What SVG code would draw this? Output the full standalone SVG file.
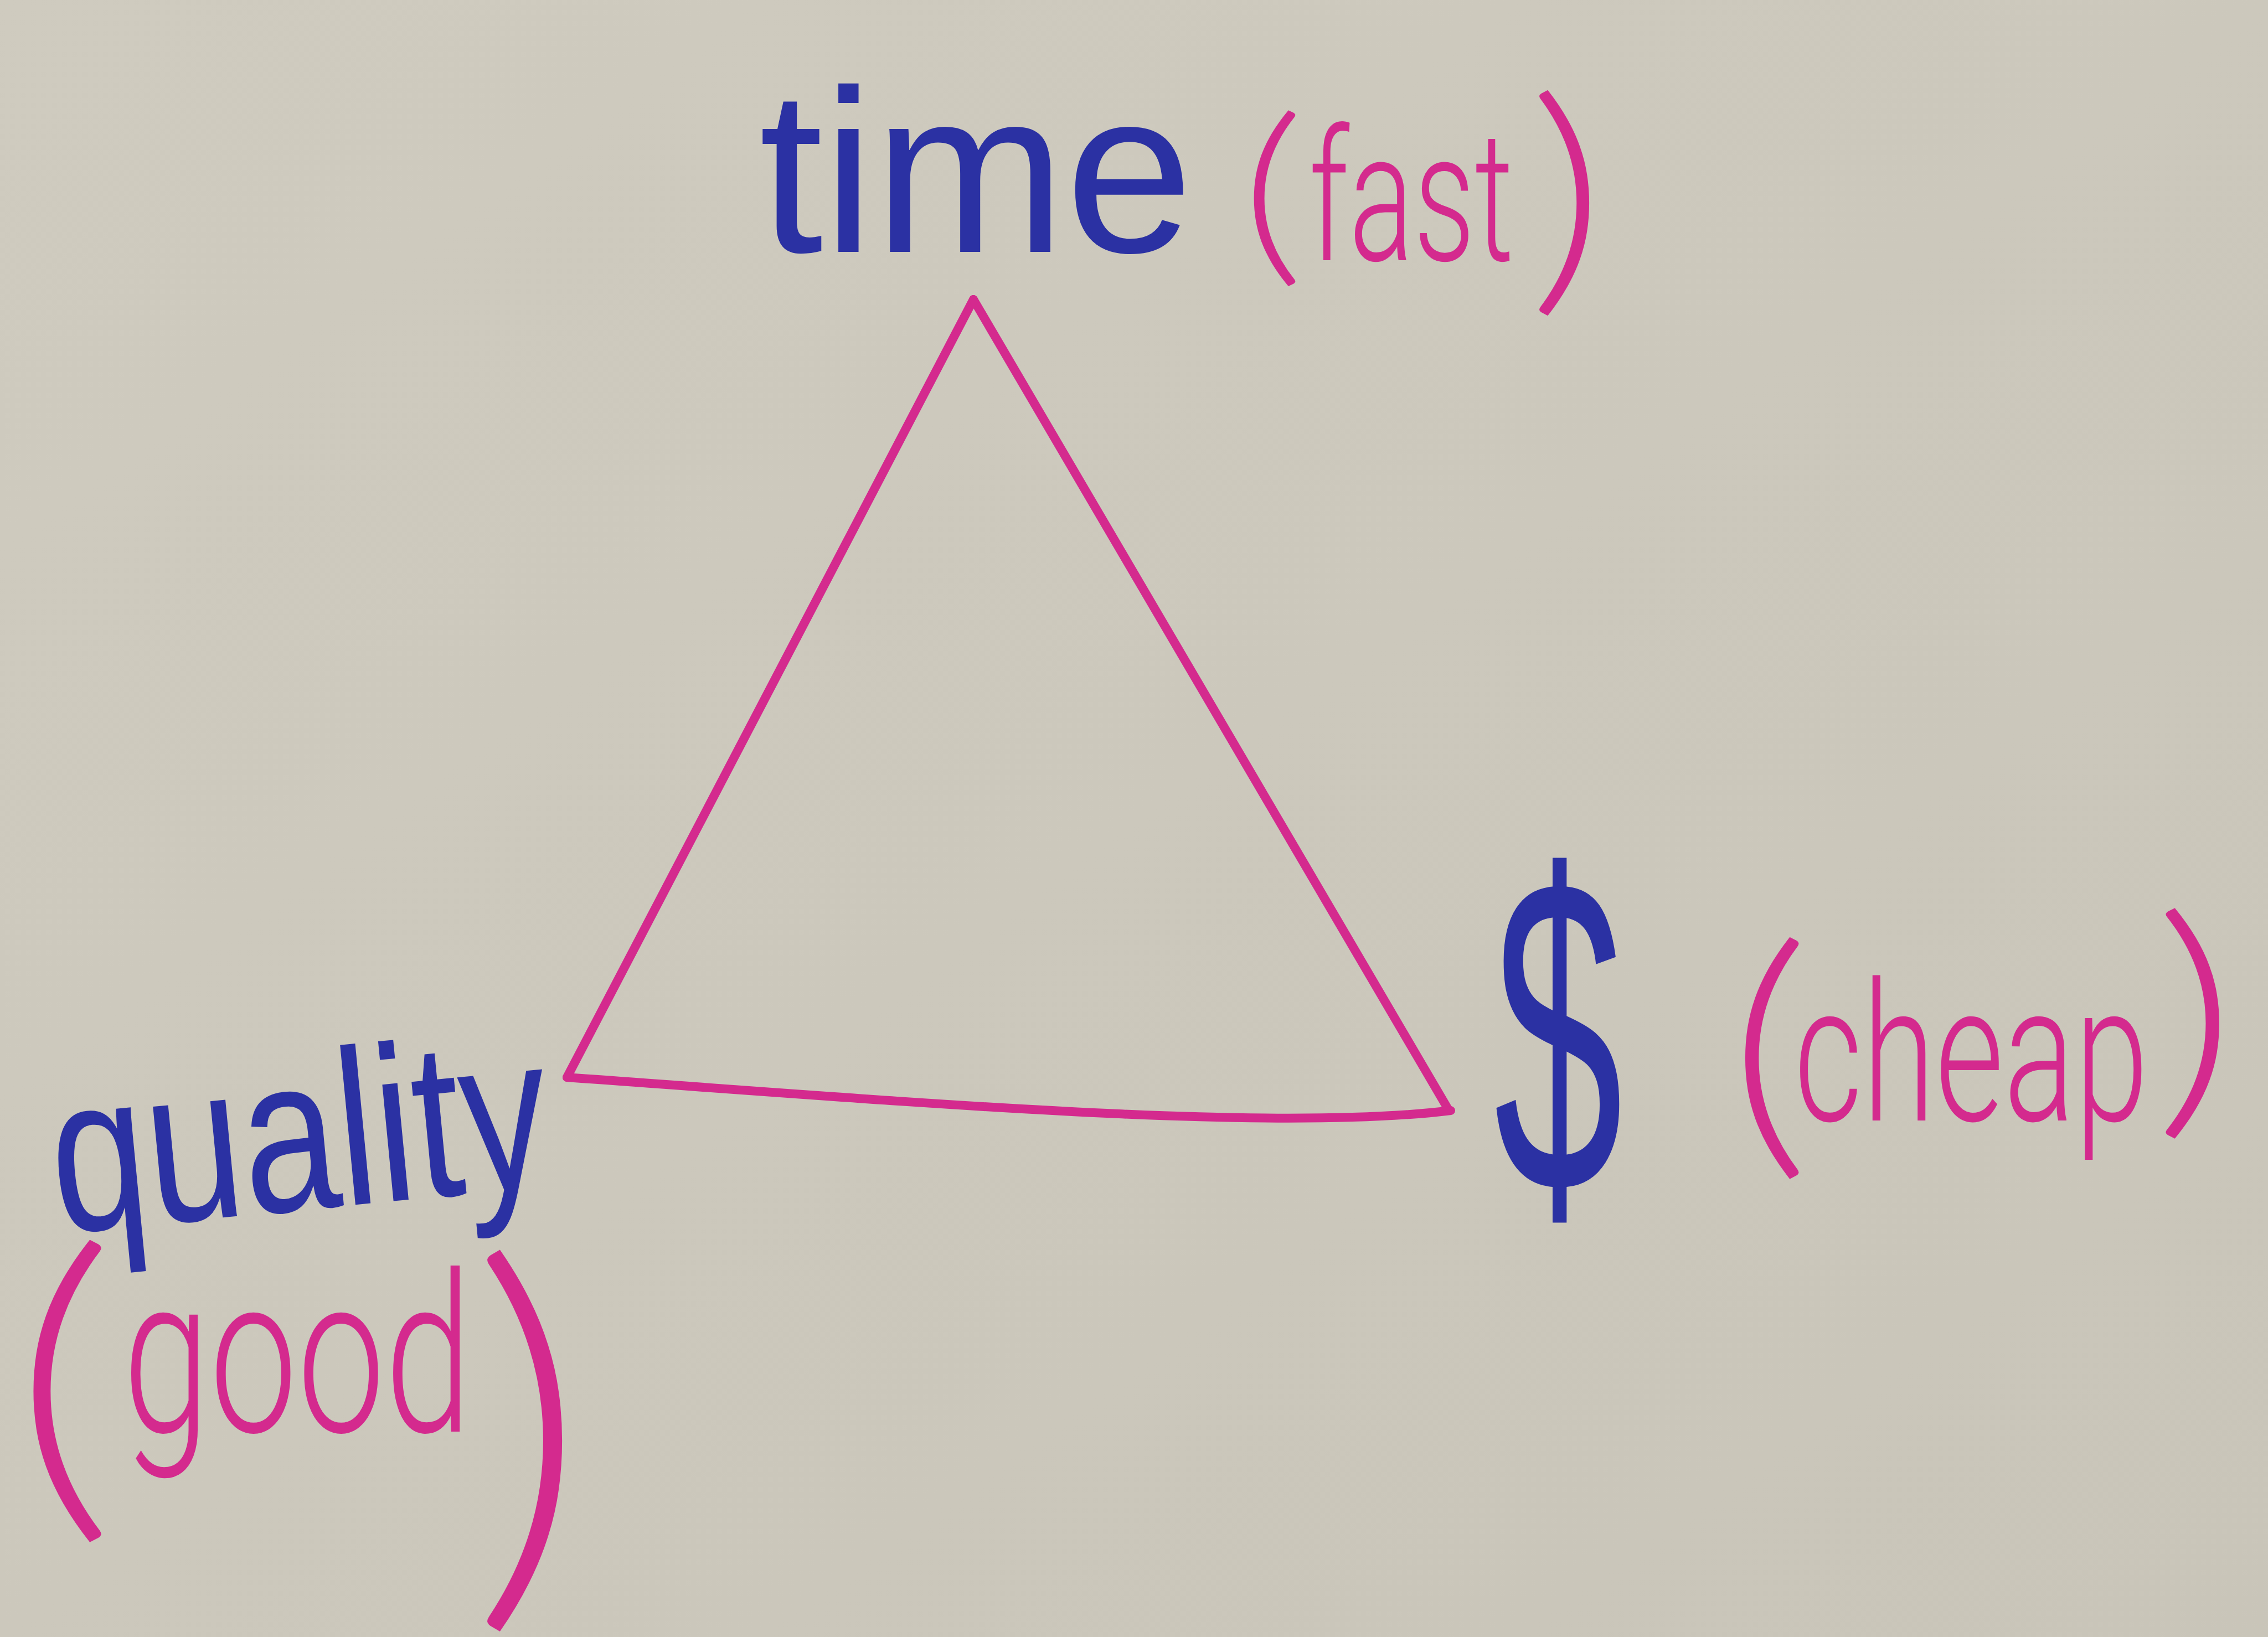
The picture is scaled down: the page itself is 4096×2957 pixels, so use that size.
<svg xmlns="http://www.w3.org/2000/svg" width="4096" height="2957" viewBox="0 0 4096 2957">
  <defs>
    <linearGradient id="board" x1="0" y1="0" x2="1" y2="1">
      <stop offset="0" stop-color="#cfcbbf"/>
      <stop offset="0.5" stop-color="#ccc8bc"/>
      <stop offset="1" stop-color="#c9c5b9"/>
    </linearGradient>
    <style>
      .blue { fill: #2b31a3; font-family: "Liberation Sans", Arial, sans-serif; }
      .pink { fill: #d42a8e; font-family: Roboto, "Liberation Sans", Arial, sans-serif; font-weight: 300; }
      .paren { font-family: Lato, "Liberation Sans", Arial, sans-serif; font-weight: 300; }
      .edge { fill: none; stroke: #d42a8e; stroke-width: 16; stroke-linecap: round; stroke-linejoin: round; }
    </style>
  </defs>

  <!-- whiteboard -->
  <rect x="0" y="0" width="4096" height="2957" fill="url(#board)"/>

  <!-- triangle sides linking the three corners -->
  <g id="connectors">
    <path class="edge" d="M1758 541 L1024 1946"/>
    <path class="edge" d="M1758 541 L2615 2003"/>
    <path class="edge" d="M1024 1946 C1700 1995 2300 2045 2620 2006"/>
  </g>

  <!-- top corner: time (fast) -->
  <g id="node-time">
    <text class="blue" x="1371" y="455" font-size="420" textLength="784" lengthAdjust="spacingAndGlyphs">time</text>
    <text class="pink"><tspan class="paren" x="2240" y="470" font-size="355" textLength="116" lengthAdjust="spacingAndGlyphs">(</tspan><tspan x="2364" y="470" font-size="330" textLength="370" lengthAdjust="spacingAndGlyphs">fast</tspan><tspan class="paren" x="2760" y="510" font-size="455" textLength="140" lengthAdjust="spacingAndGlyphs">)</tspan></text>
  </g>

  <!-- lower left corner: quality (good) -->
  <g id="node-quality">
    <text class="blue" x="104" y="2228" font-size="400" textLength="900" lengthAdjust="spacingAndGlyphs" transform="rotate(-5.5 104 2228)">quality</text>
    <text class="pink"><tspan class="paren" x="20" y="2705" font-size="610" textLength="190" lengthAdjust="spacingAndGlyphs">(</tspan><tspan x="222" y="2586" font-size="400" textLength="630" lengthAdjust="spacingAndGlyphs">good</tspan><tspan class="paren" x="850" y="2845" font-size="770" textLength="210" lengthAdjust="spacingAndGlyphs">)</tspan></text>
  </g>

  <!-- lower right corner: $ (cheap) -->
  <g id="node-cost">
    <text class="blue" x="2698" y="2152" font-size="814" textLength="233" lengthAdjust="spacingAndGlyphs">$</text>
    <text class="pink"><tspan class="paren" x="3120" y="2065" font-size="488" textLength="150" lengthAdjust="spacingAndGlyphs">(</tspan><tspan x="3240" y="2024" font-size="350" textLength="640" lengthAdjust="spacingAndGlyphs">cheap</tspan><tspan class="paren" x="3890" y="1995" font-size="465" textLength="150" lengthAdjust="spacingAndGlyphs">)</tspan></text>
  </g>
</svg>
